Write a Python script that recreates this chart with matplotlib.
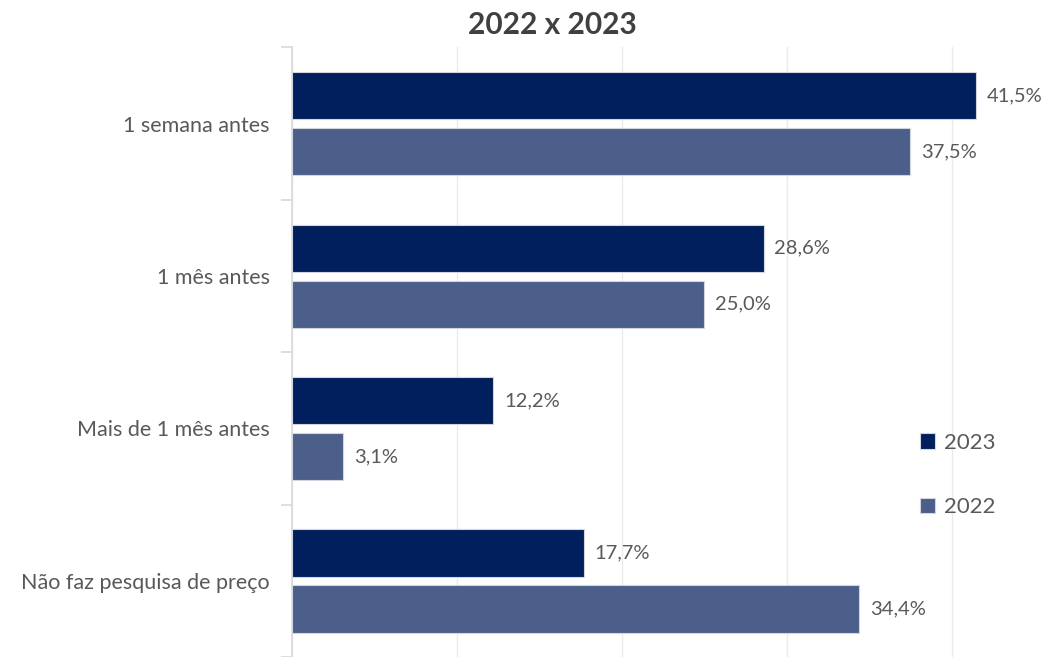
import numpy as np
import matplotlib.pyplot as plt
from matplotlib.ticker import FixedLocator

categorias = ["1 semana antes", "1 mês antes", "Mais de 1 mês antes", "Não faz pesquisa de preço"]
valores_2023 = [41.5, 28.6, 12.2, 17.7]
valores_2022 = [37.5, 25.0, 3.1, 34.4]

cor_2023 = "#001F5C"
cor_2022 = "#4C5F8B"
cor_texto = "#595959"

plt.rcParams["font.family"] = ["Lato", "DejaVu Sans"]

fig = plt.figure(figsize=(10.58, 6.57), dpi=100)
ax = fig.add_axes([0.276, 0.0, 0.717, 0.928])

pos = np.arange(len(categorias))
altura = 0.31
ax.barh(pos + 0.318, valores_2023, height=altura, color=cor_2023, edgecolor="#D0D5DE", linewidth=0.8, label="2023", zorder=3)
ax.barh(pos + 0.685, valores_2022, height=altura, color=cor_2022, edgecolor="#D0D5DE", linewidth=0.8, label="2022", zorder=3)

for i in range(len(categorias)):
    ax.text(valores_2023[i] + 0.65, pos[i] + 0.318, f"{valores_2023[i]:.1f}%".replace(".", ","),
            va="center", ha="left", fontsize=14.5, color=cor_texto)
    ax.text(valores_2022[i] + 0.65, pos[i] + 0.685, f"{valores_2022[i]:.1f}%".replace(".", ","),
            va="center", ha="left", fontsize=14.5, color=cor_texto)

ax.set_xlim(0, 46)
ax.set_ylim(len(categorias), 0)
ax.set_xticks([0, 10, 20, 30, 40])
ax.xaxis.grid(True, color="#EBEBEB", linewidth=1, zorder=0)
ax.tick_params(axis="x", length=0, labelbottom=False)

ax.set_yticks(pos + 0.5)
ax.set_yticklabels(categorias, fontsize=15.5, color=cor_texto)
ax.yaxis.set_minor_locator(FixedLocator(np.arange(len(categorias) + 1)))
ax.tick_params(axis="y", which="major", length=0, pad=16)
ax.tick_params(axis="y", which="minor", length=8, color="#D9D9D9", width=1.2)

for lado in ["top", "right", "bottom"]:
    ax.spines[lado].set_visible(False)
ax.spines["left"].set_color("#D9D9D9")
ax.spines["left"].set_linewidth(1.2)

fig.text(0.522, 0.962, "2022 x 2023", ha="center", va="center", fontsize=21.5, fontweight="bold", color="#404040")

ax.legend(loc="center", bbox_to_anchor=(0.905, 0.277), bbox_transform=fig.transFigure,
          frameon=False, fontsize=16, labelcolor=cor_texto, handlelength=0.7, handleheight=0.7,
          handletextpad=0.4, labelspacing=2.0)

fig.savefig("out.png", dpi=100)
